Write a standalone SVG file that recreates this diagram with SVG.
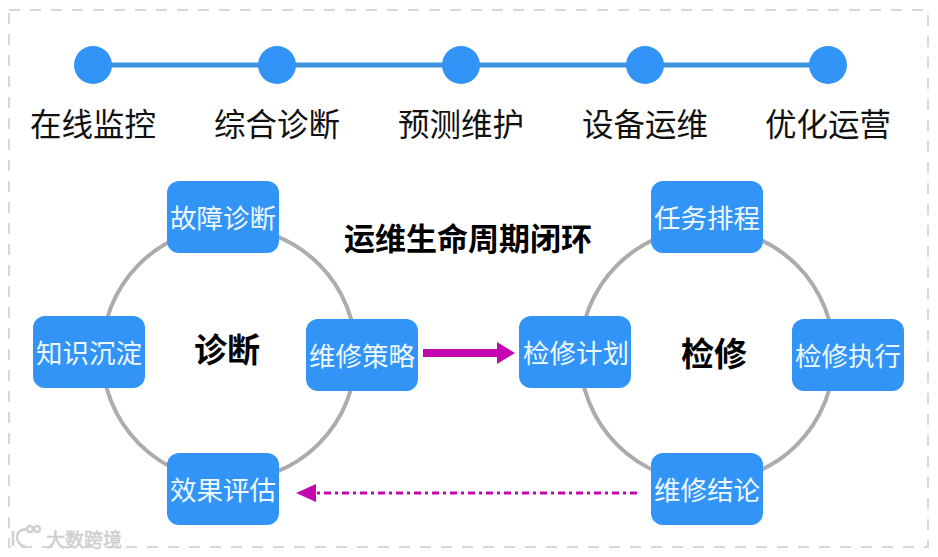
<svg xmlns="http://www.w3.org/2000/svg" width="938" height="557" viewBox="0 0 938 557">
<style>
text{font-family:"Noto Sans CJK SC",sans-serif;text-anchor:middle}
.t{font-size:31.5px;fill:#111;font-weight:400}
.n{fill:#3194f6}
.w{font-size:26.5px;fill:#eef8ff;font-weight:400}
.b{font-size:33px;font-weight:700;fill:#000}
.ring{fill:none;stroke:#acacac;stroke-width:4}
</style>
<defs>
<marker id="ah" markerUnits="userSpaceOnUse" markerWidth="18" markerHeight="22" refX="0" refY="11" orient="auto"><path d="M0 0L18 11L0 22Z" fill="#c306b0"/></marker>
<marker id="ah2" markerUnits="userSpaceOnUse" markerWidth="20" markerHeight="20" refX="0" refY="10" orient="auto"><path d="M0 1L20 10L0 19Z" fill="#c306b0"/></marker>
</defs>
<rect width="938" height="557" fill="#fff"/>
<rect x="9" y="10" width="919" height="537" fill="none" stroke="#d8d8d8" stroke-width="2" stroke-dasharray="11 10"/>
<g id="connectors">
<line x1="93" y1="65" x2="828" y2="65" stroke="#3d92dc" stroke-width="5"/>
<circle class="ring" cx="229" cy="354" r="127"/>
<circle class="ring" cx="707" cy="355" r="127"/>
<line x1="423" y1="353" x2="497" y2="353" stroke="#c306b0" stroke-width="8" marker-end="url(#ah)"/>
<line x1="637" y1="493" x2="316" y2="493" stroke="#c306b0" stroke-width="3" stroke-dasharray="7 4 3 4" marker-end="url(#ah2)"/>
</g>
<g id="s1"><circle class="n" cx="93" cy="65" r="19"/><text class="t" x="93" y="136">在线监控</text></g>
<g id="s2"><circle class="n" cx="277" cy="65" r="19"/><text class="t" x="277" y="136">综合诊断</text></g>
<g id="s3"><circle class="n" cx="461" cy="65" r="19"/><text class="t" x="461" y="136">预测维护</text></g>
<g id="s4"><circle class="n" cx="645" cy="65" r="19"/><text class="t" x="645" y="136">设备运维</text></g>
<g id="s5"><circle class="n" cx="828" cy="65" r="19"/><text class="t" x="828" y="136">优化运营</text></g>
<g id="d1"><rect class="n" x="167" y="181" width="112" height="72" rx="12"/><text class="w" x="223" y="228">故障诊断</text></g>
<g id="d2"><rect class="n" x="33" y="316" width="112" height="72" rx="12"/><text class="w" x="89" y="363">知识沉淀</text></g>
<g id="d3"><rect class="n" x="306" y="319" width="112" height="72" rx="12"/><text class="w" x="362" y="366">维修策略</text></g>
<g id="d4"><rect class="n" x="167" y="453" width="112" height="72" rx="12"/><text class="w" x="223" y="500">效果评估</text></g>
<g id="m1"><rect class="n" x="651" y="181" width="112" height="72" rx="12"/><text class="w" x="707" y="228">任务排程</text></g>
<g id="m2"><rect class="n" x="519" y="316" width="112" height="72" rx="12"/><text class="w" x="576" y="363">检修计划</text></g>
<g id="m3"><rect class="n" x="792" y="319" width="112" height="72" rx="12"/><text class="w" x="848" y="366">检修执行</text></g>
<g id="m4"><rect class="n" x="651" y="453" width="112" height="72" rx="12"/><text class="w" x="707" y="500">维修结论</text></g>
<text class="b" x="468" y="250" style="font-size:31px">运维生命周期闭环</text>
<text class="b" x="227" y="362">诊断</text>
<text class="b" x="714" y="366">检修</text>
<text x="84" y="547" style="font-size:19px;fill:#d0d0d0;font-weight:400;stroke:#d0d0d0;stroke-width:.6">大数跨境</text>
<g fill="none" stroke="#d0d0d0" stroke-width="2.5"><path d="M13 531v15"/><path d="M26 529c-8 1-9 5-9 8s2 9 9 10"/><circle cx="30" cy="529" r="3"/><circle cx="37" cy="529" r="3"/></g>
</svg>
